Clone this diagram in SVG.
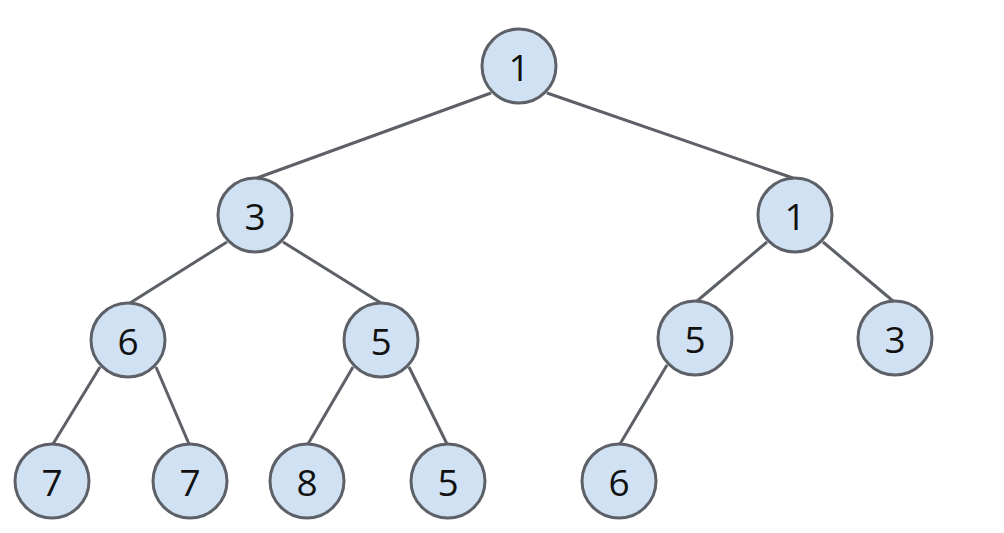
<svg xmlns="http://www.w3.org/2000/svg" width="1004" height="533" viewBox="0 0 1004 533">
<style>
.n circle{fill:#cfe1f3;stroke:#5d6167;stroke-width:3}
.n text{font-family:"Open Sans","Liberation Sans",sans-serif;font-size:37px;fill:#111;text-anchor:middle;dominant-baseline:central}
.e line{stroke:#5d6167;stroke-width:3}
</style>
<rect width="1004" height="533" fill="#fff"/>
<g id="edges" class="e">
<line x1="491" y1="93" x2="257" y2="178"/>
<line x1="547" y1="93" x2="793" y2="178"/>
<line x1="227" y1="242" x2="130" y2="303"/>
<line x1="283" y1="242" x2="381" y2="303"/>
<line x1="767" y1="242" x2="697" y2="301"/>
<line x1="823" y1="242" x2="893" y2="301"/>
<line x1="100" y1="367" x2="53" y2="444"/>
<line x1="156" y1="367" x2="189" y2="444"/>
<line x1="353" y1="367" x2="308" y2="444"/>
<line x1="409" y1="367" x2="447" y2="444"/>
<line x1="667" y1="365" x2="620" y2="444"/>
</g>
<g id="n0" class="n"><circle cx="519" cy="66" r="37"/><text x="519" y="66">1</text></g>
<g id="n1" class="n"><circle cx="255" cy="215" r="37"/><text x="255" y="215">3</text></g>
<g id="n2" class="n"><circle cx="795" cy="215" r="37"/><text x="795" y="215">1</text></g>
<g id="n3" class="n"><circle cx="128" cy="340" r="37"/><text x="128" y="340">6</text></g>
<g id="n4" class="n"><circle cx="381" cy="340" r="37"/><text x="381" y="340">5</text></g>
<g id="n5" class="n"><circle cx="695" cy="338" r="37"/><text x="695" y="338">5</text></g>
<g id="n6" class="n"><circle cx="895" cy="338" r="37"/><text x="895" y="338">3</text></g>
<g id="n7" class="n"><circle cx="52" cy="481" r="37"/><text x="52" y="481">7</text></g>
<g id="n8" class="n"><circle cx="190" cy="481" r="37"/><text x="190" y="481">7</text></g>
<g id="n9" class="n"><circle cx="307" cy="481" r="37"/><text x="307" y="481">8</text></g>
<g id="n10" class="n"><circle cx="448" cy="481" r="37"/><text x="448" y="481">5</text></g>
<g id="n11" class="n"><circle cx="619" cy="481" r="37"/><text x="619" y="481">6</text></g>
</svg>
